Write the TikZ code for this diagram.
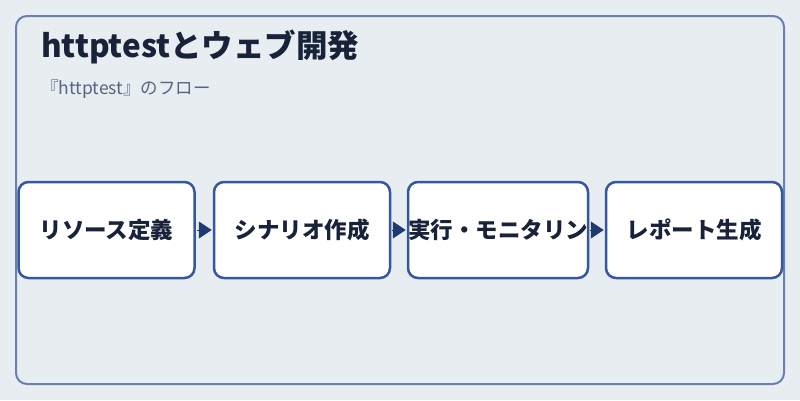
\documentclass[tikz,border=0pt]{standalone}
\usepackage{fontspec}
\setmainfont{Noto Sans CJK JP}
\usetikzlibrary{arrows.meta,positioning}
\definecolor{bgpanel}{HTML}{E8EDF2}
\definecolor{panelline}{HTML}{6A80B0}
\definecolor{stepline}{HTML}{3557A0}
\definecolor{steptext}{HTML}{18233A}
\definecolor{arrowfill}{HTML}{1F3A70}
\definecolor{subtext}{HTML}{56667F}

\begin{document}
\begin{tikzpicture}[x=1pt,y=-1pt,
  stepbox/.style={draw=stepline,line width=2.5pt,fill=white,rounded corners=10pt,
    minimum width=176pt,minimum height=96pt,inner sep=0pt,
    font=\fontsize{22.5}{26}\selectfont\bfseries,text=steptext},
  flow/.style={draw=arrowfill,line width=1pt,shorten <=1pt,shorten >=1pt,
    {Triangle[length=13pt,width=17pt]}-}]
\fill[bgpanel] (0,0) rectangle (800,400);
\useasboundingbox (0,0) rectangle (800,400);
\draw[panelline,line width=2pt,rounded corners=11pt] (16,16) rectangle (784,384);

\node[anchor=west,inner sep=0pt,font=\fontsize{31.5}{34}\selectfont\bfseries,text=steptext] (titel) at (41,47) {httptestとウェブ開発};
\node[anchor=west,inner sep=0pt,font=\fontsize{17.5}{20}\selectfont,text=subtext] (untertitel) at (41,89) {『httptest』のフロー};

\node[stepbox] (ressource) at (106.5,230) {リソース定義}
node[stepbox] (szenario) at (302,230) {シナリオ作成}
edge[flow] (ressource)
node[stepbox] (ausfuehrung) at (498,230) {実行・モニタリン}
edge[flow] (szenario)
node[stepbox] (bericht) at (694,230) {レポート生成}
edge[flow] (ausfuehrung);

\end{tikzpicture}
\end{document}
